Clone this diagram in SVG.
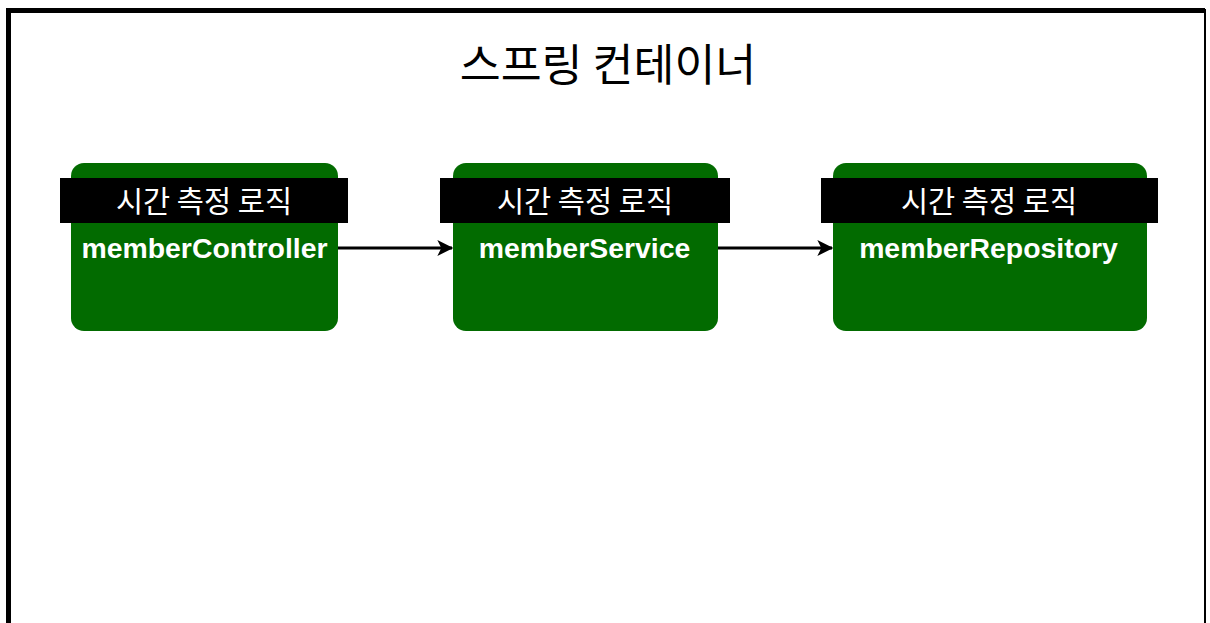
<svg xmlns="http://www.w3.org/2000/svg" width="1210" height="623" viewBox="0 0 1210 623">
<style>
.box{fill:#026b00}
.band{fill:#000}
.kr{font-family:"Noto Sans CJK KR","Noto Sans",sans-serif;fill:#fff;font-size:29.5px;font-weight:400;text-anchor:middle}
.en{font-family:"Liberation Sans",Arial,sans-serif;font-weight:bold;fill:#fff;font-size:28.4px;text-anchor:middle}
.title{font-family:"Noto Sans CJK KR","Noto Sans",sans-serif;fill:#000;font-size:44.5px;text-anchor:middle}
.conn{stroke:#000;stroke-width:3;fill:none}
</style>
<defs>
<marker id="arr" viewBox="0 0 12 12" refX="11" refY="6" markerWidth="17" markerHeight="16" markerUnits="userSpaceOnUse" orient="auto">
<path d="M0,0 L12,6 L0,12 L3,6 z" fill="#000"/>
</marker>
</defs>
<rect width="1210" height="623" fill="#fff"/>
<g id="container">
<path d="M8.5,623 L8.5,10.5 L1205,10.5" fill="none" stroke="#000" stroke-width="5"/>
<line x1="1205" y1="9" x2="1205" y2="623" stroke="#000" stroke-width="2"/>
<text class="title" x="608" y="81">스프링 컨테이너</text>
</g>
<g id="connectors">
<line class="conn" x1="338" y1="248" x2="452" y2="248" marker-end="url(#arr)"/>
<line class="conn" x1="718" y1="248" x2="832" y2="248" marker-end="url(#arr)"/>
</g>
<g id="memberController">
<rect class="box" x="71" y="163" width="267" height="168" rx="13"/>
<rect class="band" x="60" y="178" width="288" height="45"/>
<text class="kr" x="204" y="212">시간 측정 로직</text>
<text class="en" x="204.5" y="258">memberController</text>
</g>
<g id="memberService">
<rect class="box" x="453" y="163" width="265" height="168" rx="13"/>
<rect class="band" x="440" y="178" width="290" height="45"/>
<text class="kr" x="585" y="212">시간 측정 로직</text>
<text class="en" x="584.5" y="258">memberService</text>
</g>
<g id="memberRepository">
<rect class="box" x="833" y="163" width="314" height="168" rx="13"/>
<rect class="band" x="821" y="178" width="337" height="45"/>
<text class="kr" x="989" y="212">시간 측정 로직</text>
<text class="en" x="988.5" y="258">memberRepository</text>
</g>
</svg>
